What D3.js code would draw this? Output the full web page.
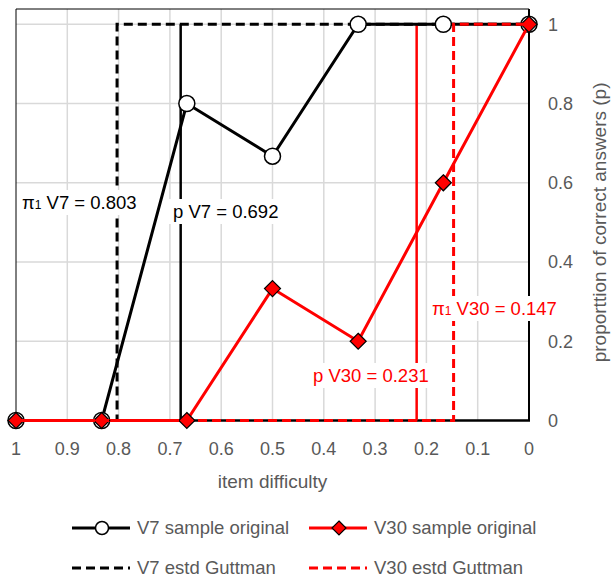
<!DOCTYPE html>
<html>
<head>
<meta charset="utf-8">
<script src="https://cdn.jsdelivr.net/npm/d3@7"></script>
<style>
  body { margin: 0; background: #fff; }
  svg { font-family: "Liberation Sans", Arial, sans-serif; }
</style>
</head>
<body>
<svg id="chart"></svg>
<script>
// Chart size
const width = 611;
const height = 578;

// Data
const difficulty = [1, 0.833, 0.667, 0.5, 0.333, 0.167, 0];
const v7Sample = [0, 0, 0.8, 0.667, 1, 1, 1];
const v30Sample = [0, 0, 0, 0.333, 0.2, 0.6, 1];
const v7Guttman = [[1, 0], [0.803, 0], [0.803, 1], [0, 1]];
const v30Guttman = [[1, 0], [0.147, 0], [0.147, 1], [0, 1]];
const pLineV7 = 0.679;
const pLineV30 = 0.219;
const xTicks = [1, 0.9, 0.8, 0.7, 0.6, 0.5, 0.4, 0.3, 0.2, 0.1, 0];
const yTicks = [0, 0.2, 0.4, 0.6, 0.8, 1];

const svg = d3.select("#chart")
    .attr("width", width)
    .attr("height", height);

// Scales (x reversed: easy items on the left)
const x = d3.scaleLinear().domain([1, 0]).range([16, 529]);
const y = d3.scaleLinear().domain([0, 1]).range([420.5, 24.3]);
const plotTop = 9;

// Gridlines
svg.append("g").selectAll("line")
    .data(xTicks.filter(d => d !== 1 && d !== 0))
    .join("line")
    .attr("x1", d => x(d)).attr("x2", d => x(d))
    .attr("y1", plotTop).attr("y2", y(0))
    .attr("stroke", "#d9d9d9").attr("stroke-width", 1.5);

svg.append("g").selectAll("line")
    .data(yTicks.filter(d => d !== 0))
    .join("line")
    .attr("x1", x(1)).attr("x2", x(0))
    .attr("y1", d => y(d)).attr("y2", d => y(d))
    .attr("stroke", "#d9d9d9").attr("stroke-width", 1.5);

// Plot frame (thin left and top)
svg.append("path")
    .attr("d", `M${x(0)},${plotTop}H${x(1)}V${y(0)}`)
    .attr("fill", "none")
    .attr("stroke", "#000")
    .attr("stroke-width", 1);

// Bottom axis line and right axis line
svg.append("line")
    .attr("x1", x(1)).attr("x2", x(0) + 1)
    .attr("y1", y(0)).attr("y2", y(0))
    .attr("stroke", "#000").attr("stroke-width", 2.5);
svg.append("line")
    .attr("x1", x(0)).attr("x2", x(0))
    .attr("y1", plotTop).attr("y2", y(0))
    .attr("stroke", "#000").attr("stroke-width", 2);

// Tick labels
svg.append("g").selectAll("text")
    .data(xTicks)
    .join("text")
    .attr("x", d => x(d))
    .attr("y", 455)
    .attr("text-anchor", "middle")
    .attr("fill", "#595959")
    .attr("font-size", 18)
    .text(d => d3.format("~g")(d));

svg.append("g").selectAll("text")
    .data(yTicks)
    .join("text")
    .attr("x", 548)
    .attr("y", d => y(d))
    .attr("dy", "0.35em")
    .attr("fill", "#595959")
    .attr("font-size", 18)
    .text(d => d3.format("~g")(d));

// Axis titles
svg.append("text")
    .attr("x", (x(1) + x(0)) / 2)
    .attr("y", 488)
    .attr("text-anchor", "middle")
    .attr("fill", "#595959")
    .attr("font-size", 19)
    .text("item difficulty");

svg.append("text")
    .attr("transform", `translate(606, ${(y(0) + y(1)) / 2}) rotate(-90)`)
    .attr("text-anchor", "middle")
    .attr("fill", "#595959")
    .attr("font-size", 19)
    .text("proporttion of correct answers (p)");

// Line generators
const line = d3.line().x(d => x(d[0])).y(d => y(d[1]));
const v7Points = difficulty.map((d, i) => [d, v7Sample[i]]);
const v30Points = difficulty.map((d, i) => [d, v30Sample[i]]);

// Vertical p lines
svg.append("line")
    .attr("x1", x(pLineV7)).attr("x2", x(pLineV7))
    .attr("y1", y(0)).attr("y2", y(1))
    .attr("stroke", "#000").attr("stroke-width", 2.5);
svg.append("line")
    .attr("x1", x(pLineV30)).attr("x2", x(pLineV30))
    .attr("y1", y(0)).attr("y2", y(1))
    .attr("stroke", "#ff0000").attr("stroke-width", 2.5);

// V7 estd Guttman
svg.append("path")
    .attr("d", line(v7Guttman))
    .attr("fill", "none")
    .attr("stroke", "#000")
    .attr("stroke-width", 3)
    .attr("stroke-dasharray", "9,5");

// V7 sample original
svg.append("path")
    .attr("d", line(v7Points))
    .attr("fill", "none")
    .attr("stroke", "#000")
    .attr("stroke-width", 3);
svg.append("g").selectAll("circle")
    .data(v7Points)
    .join("circle")
    .attr("cx", d => x(d[0]))
    .attr("cy", d => y(d[1]))
    .attr("r", 8)
    .attr("fill", "#fff")
    .attr("stroke", "#000")
    .attr("stroke-width", 1.5);

// V30 sample original
const diamond = (cx, cy, r) => `M${cx},${cy - r}L${cx + r},${cy}L${cx},${cy + r}L${cx - r},${cy}Z`;
svg.append("path")
    .attr("d", line(v30Points))
    .attr("fill", "none")
    .attr("stroke", "#ff0000")
    .attr("stroke-width", 3);
svg.append("g").selectAll("path")
    .data(v30Points)
    .join("path")
    .attr("d", d => diamond(x(d[0]), y(d[1]), 8))
    .attr("fill", "#ff0000")
    .attr("stroke", "#000")
    .attr("stroke-width", 1.2);

// V30 estd Guttman
svg.append("path")
    .attr("d", line(v30Guttman))
    .attr("fill", "none")
    .attr("stroke", "#ff0000")
    .attr("stroke-width", 3)
    .attr("stroke-dasharray", "9,5");

// Data labels with white boxes
function addLabel(px, py, parts, color) {
    const g = svg.append("g");
    const rect = g.append("rect").attr("fill", "#fff");
    const t = g.append("text")
        .attr("x", px)
        .attr("y", py)
        .attr("fill", color)
        .attr("font-size", 18.5);
    parts.forEach(p => {
        t.append("tspan").attr("font-size", p.size || 18.5).text(p.text);
    });
    const b = t.node().getBBox();
    rect.attr("x", b.x - 4).attr("y", b.y - 2)
        .attr("width", b.width + 8).attr("height", b.height + 4);
}

addLabel(22, 209, [{text: "π"}, {text: "1", size: 12}, {text: " V7 = 0.803"}], "#000");
addLabel(173, 218, [{text: "p V7 = 0.692"}], "#000");
addLabel(432, 315, [{text: "π"}, {text: "1", size: 12}, {text: " V30 = 0.147"}], "#ff0000");
addLabel(313, 382, [{text: "p V30 = 0.231"}], "#ff0000");

// Legend
const legend = svg.append("g");
const legendRows = [
    {x: 72, y: 528, color: "#000", dash: null, marker: "circle", label: "V7 sample original"},
    {x: 309, y: 528, color: "#ff0000", dash: null, marker: "diamond", label: "V30 sample original"},
    {x: 72, y: 568, color: "#000", dash: "9,5", marker: null, label: "V7 estd Guttman"},
    {x: 309, y: 568, color: "#ff0000", dash: "9,5", marker: null, label: "V30 estd Guttman"}
];
legendRows.forEach(r => {
    legend.append("line")
        .attr("x1", r.x).attr("x2", r.x + 58)
        .attr("y1", r.y).attr("y2", r.y)
        .attr("stroke", r.color)
        .attr("stroke-width", 3)
        .attr("stroke-dasharray", r.dash);
    if (r.marker === "circle") {
        legend.append("circle")
            .attr("cx", r.x + 30).attr("cy", r.y).attr("r", 6.5)
            .attr("fill", "#fff").attr("stroke", "#000").attr("stroke-width", 1.5);
    } else if (r.marker === "diamond") {
        legend.append("path")
            .attr("d", diamond(r.x + 30, r.y, 7))
            .attr("fill", "#ff0000").attr("stroke", "#000").attr("stroke-width", 1.2);
    }
    legend.append("text")
        .attr("x", r.x + 65)
        .attr("y", r.y)
        .attr("dy", "0.35em")
        .attr("fill", "#595959")
        .attr("font-size", 18.5)
        .text(r.label);
});
</script>
</body>
</html>
